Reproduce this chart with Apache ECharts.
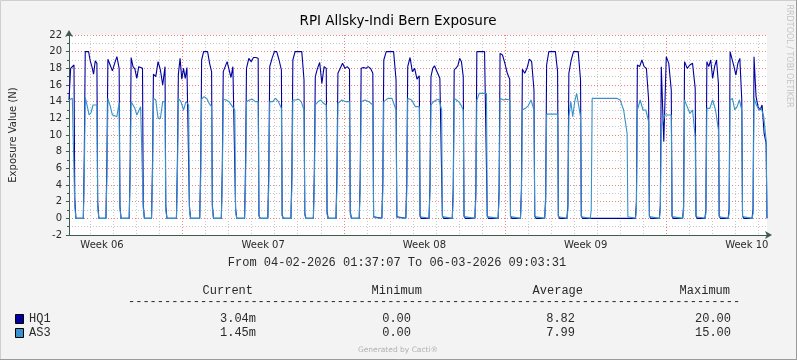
<!DOCTYPE html>
<html><head><meta charset="utf-8">
<script src="https://cdn.jsdelivr.net/npm/echarts@6/dist/echarts.min.js"></script>
<style>html,body{margin:0;padding:0;background:#f3f3f3}#c{width:797px;height:360px}</style>
</head><body><div id="c"></div>
<script>
// ---------------- data ----------------
const titleText = 'RPI Allsky-Indi Bern Exposure';
const yAxisTitle = 'Exposure Value (N)';
const startTime = '02-04 01:37:07';
const endTime = '03-06 09:03:31';
const weekLabels = ['Week 06', 'Week 07', 'Week 08', 'Week 09', 'Week 10'];
const yMin = -2, yMax = 22, yStep = 2;

// start / end of each night's high-exposure plateau (MM-DD HH:MM, 2026)
const nightStart = ['02-04 01:37','02-04 18:33','02-05 18:09','02-06 18:22','02-07 17:38','02-08 19:36',
  '02-09 19:50','02-10 18:23','02-11 18:36','02-12 18:49','02-13 18:55','02-14 18:18','02-15 17:53',
  '02-16 18:06','02-17 17:41','02-18 18:38','02-19 18:51','02-20 19:04','02-21 18:39','02-22 18:52',
  '02-23 18:08','02-24 19:23','02-25 18:34','02-26 18:53','02-28 17:58','03-01 18:54','03-02 19:07',
  '03-03 18:23','03-04 18:36','03-05 19:32'];
const nightEnd = ['02-04 06:49','02-05 06:43','02-06 05:53','02-07 06:13','02-08 05:41','02-09 06:19',
  '02-10 06:13','02-11 06:26','02-12 06:45','02-13 06:58','02-14 06:33','02-15 05:44','02-16 05:57',
  '02-17 06:16','02-18 06:28','02-19 06:41','02-20 05:58','02-21 04:30','02-22 04:43','02-23 04:56',
  '02-24 06:12','02-25 06:49','02-26 06:44','02-28 07:16','03-01 05:42','03-02 05:17','03-03 06:14',
  '03-04 06:26','03-05 06:46','03-06 08:10'];

// HQ1 plateau samples, evenly spread over each night
const hq1Night = [
  [14.2,18.0,18.2,18.4],
  [20,20,20,18.9,18.2,17.3,18.9,18.6],
  [19.1,18.4,17.7,18.6,19.4,18.0],
  [19.3,18.2,17.9,16.8,18.2,18.0,18.0],
  [17.3,17.0,18.8,17.8,16.0,18.2],
  [17.3,19.2,16.7,18.0,16.8,18.1,18.2],
  [19.0,20,20,20,18.6,17.6],
  [17.6,17.4,18.8,19.0,16.9,18.2,18.0],
  [18.0,19.2,18.8,19.3,19.3,19.2],
  [18.2,19.2,20,20,19.0,17.8],
  [19.0,20,20,20,20,16.6],
  [17.0,18.0,18.7,16.2,18.2,18.0],
  [17.4,18.0,18.6,18.0,18.2,17.9],
  [18.0,18.1,18.0,18.2,18.0,17.4],
  [19.0,20,20,20,20,16.6],
  [18.2,19.3,17.6,18.0,16.7,17.1],
  [17.0,18.0,18.3,17.8,18.0,16.8,16.8],
  [17.8,17.8,18.3,19.2,18.8,17.0],
  [20,20,20,20,20,20],
  [19.8,19.6,18.6,17.4,16.7],
  [17.9,17.4,18.0,19.1,18.8,15.4],
  [18.4,20,20,20,20,17.6],
  [17.4,19.0,20,20,20,16.6],
  [0,0],
  [18.4,18.2,19.0,18.2,18.0,14.2],
  [18.2,9.2,19.4,18.6,15.4],
  [18.8,18.0,18.4,18.6,15.6],
  [18.8,18.2,19.0,16.8,18.2,19.0,16.2],
  [20,20,18.2,17.2,18.6,19.2,14.2],
  [19.4,14.6,13.4,13.0,13.6,10.2,9.0]
];
// AS3 plateau samples
const as3Night = [
  [14.2,14.3,14.4,14.4],
  [14.5,13.5,12.4,12.7,13.6,13.6,13.6],
  [14.4,13.5,12.4,12.3,12.2,13.9],
  [14.0,14.0,13.2,12.4,12.4,13.4,13.4],
  [14.4,14.2,12.0,12.0,14.0,14.0],
  [14.4,14.0,13.0,14.0,13.6],
  [14.3,14.6,14.4,13.8,13.4],
  [14.3,14.2,14.0,13.5,13.0],
  [14.0,14.2,14.3,14.0,14.0],
  [14.0,14.0,14.4,14.0,13.2],
  [14.2,14.2,14.3,14.0,13.0],
  [13.6,14.0,14.2,13.8,13.6],
  [13.8,14.2,14.0,14.0],
  [14.0,14.2,14.0,13.6],
  [14.0,14.4,14.4,13.0],
  [14.4,14.2,13.4,13.4],
  [13.6,14.0,14.2,14.3,13.0],
  [14.4,14.2,14.0,13.6,13.0],
  [14.2,15.0,15.0,15.0,15.0],
  [14.4,14.2,14.3,14.2],
  [13.0,13.2,13.5,14.2,13.0],
  [12.5,12.5,12.5,12.5],
  [12.2,14.0,12.2,14.0,15.0,15.0,12.2],
  [14.4,14.4,14.4,14.4,14.4,14.4,14.4,14.4,14.4,14.4,14.4,14.4,14.4,14.4,14.4,14.4,14.2,14.0,13.0,11.6,10.2],
  [13.0,14.2,13.0,13.0,11.6],
  [11.0,12.4,12.4,12.4],
  [14.2,13.4,12.6,13.0,9.8],
  [13.2,13.2,14.2,13.0,10.6],
  [14.2,14.4,13.0,13.4,14.2,13.0],
  [14.4,13.6,13.0,13.2,12.2,9.4]
];
// value one hour before each plateau (dusk) and shortly after it (dawn)
const hq1Dusk = [0,7.6,7.1,6.6,6.3,6.8,6.2,6.0,6.3,5.6,5.5,5.6,5.6,4.9,4.6,4.4,4.2,3.6,3.4,3.5,3.6,2.6,1.6,0,2.0,1.6,1.4,1.0,1.2,1.2];
const as3Dusk = [0,5.0,5.0,4.8,4.5,5.0,4.5,4.5,3.8,3.8,3.8,3.8,3.8,3.5,3.2,3.0,3.2,2.4,2.4,2.5,2.3,1.8,1.0,1.0,1.0,1.0,0.8,0.6,0.6,0.6];
const hq1Dawn = [2.4,2.0,1.5,1.6,1.5,1.5,1.6,1.2,0.4,0.4,0.6,0.8,0.8,0.2,0.2,0.3,0.3,0.3,0.3,0.3,0.3,0.3,0.3,0,0.3,0.3,0.3,0.3,0.3,0.3];
const as3Dawn = [1.5,1.4,1.2,1.2,1.0,1.0,1.2,0.8,0.3,0.3,0.4,0.5,0.5,0.1,0.1,0.2,0.2,0.2,0.2,0.2,0.2,0.2,0.2,0.2,0.2,0.2,0.2,0.2,0.2,0.2];
const hq1Current = 0.00304, as3Current = 0.00145;

// legend table
const legendNames = ['HQ1', 'AS3'];
const legendColors = ['#0000a0', '#3592cc'];
const legendHeaders = ['Current', 'Minimum', 'Average', 'Maximum'];
const legendCurrent = ['3.04m', '1.45m'];
const legendMinimum = ['0.00', '0.00'];
const legendAverage = ['8.82', '7.99'];
const legendMaximum = ['20.00', '15.00'];

// ---------------- helpers ----------------
function toHours(s) {
  const [md, hms] = s.split(' ');
  const [mo, dd] = md.split('-').map(Number);
  const p = hms.split(':').map(Number);
  const day = mo === 2 ? dd - 2 : 26 + dd; // hours since Mon 2026-02-02 00:00
  return day * 24 + p[0] + p[1] / 60 + (p[2] || 0) / 3600;
}
const tStart = toHours(startTime), tEnd = toHours(endTime);

function buildSeries(nights, dusk, dawn, current) {
  const pts = [];
  for (let i = 0; i < nightStart.length; i++) {
    const r = toHours(nightStart[i]), d = toHours(nightEnd[i]);
    if (i > 0) { pts.push([r - 2, 0]); pts.push([r - 1, dusk[i]]); }
    const v = nights[i], n = v.length;
    for (let k = 0; k < n; k++) pts.push([r + (d - r) * k / (n - 1), v[k]]);
    if (d + 0.8 < tEnd) pts.push([d + 0.8, dawn[i]]);
    if (d + 2 < tEnd) pts.push([d + 2, 0]);
  }
  pts.push([tEnd, current]);
  return pts;
}
const hq1Data = buildSeries(hq1Night, hq1Dusk, hq1Dawn, hq1Current);
const as3Data = buildSeries(as3Night, as3Dusk, as3Dawn, as3Current);

const dayLines = [], weekLines = [], weekMid = [];
for (let h = Math.ceil(tStart / 24) * 24; h < tEnd; h += 24) dayLines.push(h);
for (let h = Math.ceil(tStart / 168) * 168; h < tEnd; h += 168) weekLines.push(h);
for (let k = 0; k < weekLabels.length; k++) weekMid.push(84 + 168 * k);

// ---------------- chart ----------------
const AX = '#3f5a50';
const SANS = 'DejaVu Sans';
const MONO = 'Liberation Mono';
const TXT = '#2a2a2a';
const chart = echarts.init(document.getElementById('c'), null, { renderer: 'canvas' });

const baseX = { type: 'value', min: tStart, max: tEnd, gridIndex: 0, position: 'bottom',
  axisLine: { show: false }, axisTick: { show: false }, axisLabel: { show: false }, splitLine: { show: false } };

const graphics = [
  { type: 'rect', shape: { x: 0.5, y: 0.5, width: 796, height: 359 }, style: { fill: 'none', stroke: '#cfcfcf', lineWidth: 1 }, silent: true },
  { type: 'line', shape: { x1: 796.5, y1: 0, x2: 796.5, y2: 360 }, style: { stroke: '#9a9a9a', lineWidth: 1 } },
  { type: 'line', shape: { x1: 0, y1: 359.5, x2: 797, y2: 359.5 }, style: { stroke: '#9a9a9a', lineWidth: 1 } },
  { type: 'text', x: 398, y: 21, style: { text: titleText, font: '13.5px "' + SANS + '"', fill: '#000', align: 'center', verticalAlign: 'middle' } },
  { type: 'text', x: 789, y: 56, rotation: -Math.PI / 2, style: { text: 'RRDTOOL / TOBI OETIKER', font: '8px "' + SANS + '"', fill: '#c4c4c4', align: 'center', verticalAlign: 'middle' } },
  { type: 'text', x: 397, y: 263, style: { text: 'From ' + startTime.replace('02-04', '04-02-2026') + ' To ' + endTime.replace('03-06', '06-03-2026'), font: '12px "' + MONO + '"', fill: TXT, align: 'center', verticalAlign: 'middle' } },
  { type: 'text', x: 128, y: 302, style: { text: '-'.repeat(85), font: '12px "' + MONO + '"', fill: TXT, align: 'left', verticalAlign: 'middle' } },
  { type: 'text', x: 398, y: 350, style: { text: 'Generated by Cacti®', font: '7.5px "' + SANS + '"', fill: '#b0b0b0', align: 'center', verticalAlign: 'middle' } }
];
const headerRight = [253, 422, 583, 730];
legendHeaders.forEach((h, i) => graphics.push({ type: 'text', x: headerRight[i], y: 291,
  style: { text: h, font: '12px "' + MONO + '"', fill: TXT, align: 'right', verticalAlign: 'middle' } }));
const valueRight = [256, 411, 575, 731];
const cols = [legendCurrent, legendMinimum, legendAverage, legendMaximum];
legendNames.forEach((n, r) => {
  const y = 319 + r * 14;
  graphics.push({ type: 'rect', shape: { x: 15.5, y: y - 4.5, width: 8, height: 9 }, style: { fill: legendColors[r], stroke: '#000', lineWidth: 1 } });
  graphics.push({ type: 'text', x: 29, y: y, style: { text: n, font: '12px "' + MONO + '"', fill: TXT, align: 'left', verticalAlign: 'middle' } });
  cols.forEach((c, j) => graphics.push({ type: 'text', x: valueRight[j], y: y,
    style: { text: c[r], font: '12px "' + MONO + '"', fill: TXT, align: 'right', verticalAlign: 'middle' } }));
});

chart.setOption({
  animation: false,
  backgroundColor: '#f3f3f3',
  grid: { left: 67, right: 30, top: 35, bottom: 125, show: true, backgroundColor: '#ffffff', borderWidth: 0, containLabel: false },
  xAxis: [
    Object.assign({}, baseX, { axisLine: { show: true, onZero: false, symbol: ['none', 'arrow'], symbolSize: [6, 7], symbolOffset: [0, 5],
      lineStyle: { color: AX, width: 1 } } }),
    Object.assign({}, baseX, { axisTick: { show: false, customValues: dayLines },
      splitLine: { show: true, lineStyle: { color: '#c8c8c8', type: [1, 2], width: 1 } } }),
    Object.assign({}, baseX, { axisTick: { show: false, customValues: weekLines },
      splitLine: { show: true, lineStyle: { color: '#f08080', type: [1, 2], width: 1 } } }),
    Object.assign({}, baseX, { axisLabel: { show: true, customValues: weekMid, margin: 5,
      formatter: (v) => weekLabels[Math.round((v - 84) / 168)], fontFamily: SANS, fontSize: 10, color: TXT } })
  ],
  yAxis: {
    type: 'value', min: yMin, max: yMax, interval: yStep,
    name: yAxisTitle, nameLocation: 'middle', nameRotate: 90, nameGap: 51,
    nameTextStyle: { fontFamily: SANS, fontSize: 10, color: TXT },
    axisLine: { show: true, symbol: ['none', 'arrow'], symbolSize: [6, 7], symbolOffset: [0, 5], lineStyle: { color: AX, width: 1 } },
    axisTick: { show: true, length: 3, lineStyle: { color: AX } },
    minorTick: { show: true, splitNumber: 2, length: 2, lineStyle: { color: AX } },
    axisLabel: { fontFamily: SANS, fontSize: 10, color: TXT, margin: 7 },
    splitLine: { show: true, lineStyle: { color: '#f08080', type: [1, 2], width: 1 } },
    minorSplitLine: { show: true, lineStyle: { color: '#c8c8c8', type: [1, 2], width: 1 } }
  },
  series: [
    { name: 'HQ1', type: 'line', xAxisIndex: 0, data: hq1Data, showSymbol: false, symbol: 'none',
      lineStyle: { color: legendColors[0], width: 1.1 }, itemStyle: { color: legendColors[0] }, z: 3 },
    { name: 'AS3', type: 'line', xAxisIndex: 0, data: as3Data, showSymbol: false, symbol: 'none',
      lineStyle: { color: legendColors[1], width: 1.1 }, itemStyle: { color: legendColors[1] }, z: 4 }
  ],
  graphic: graphics
});
</script></body></html>
